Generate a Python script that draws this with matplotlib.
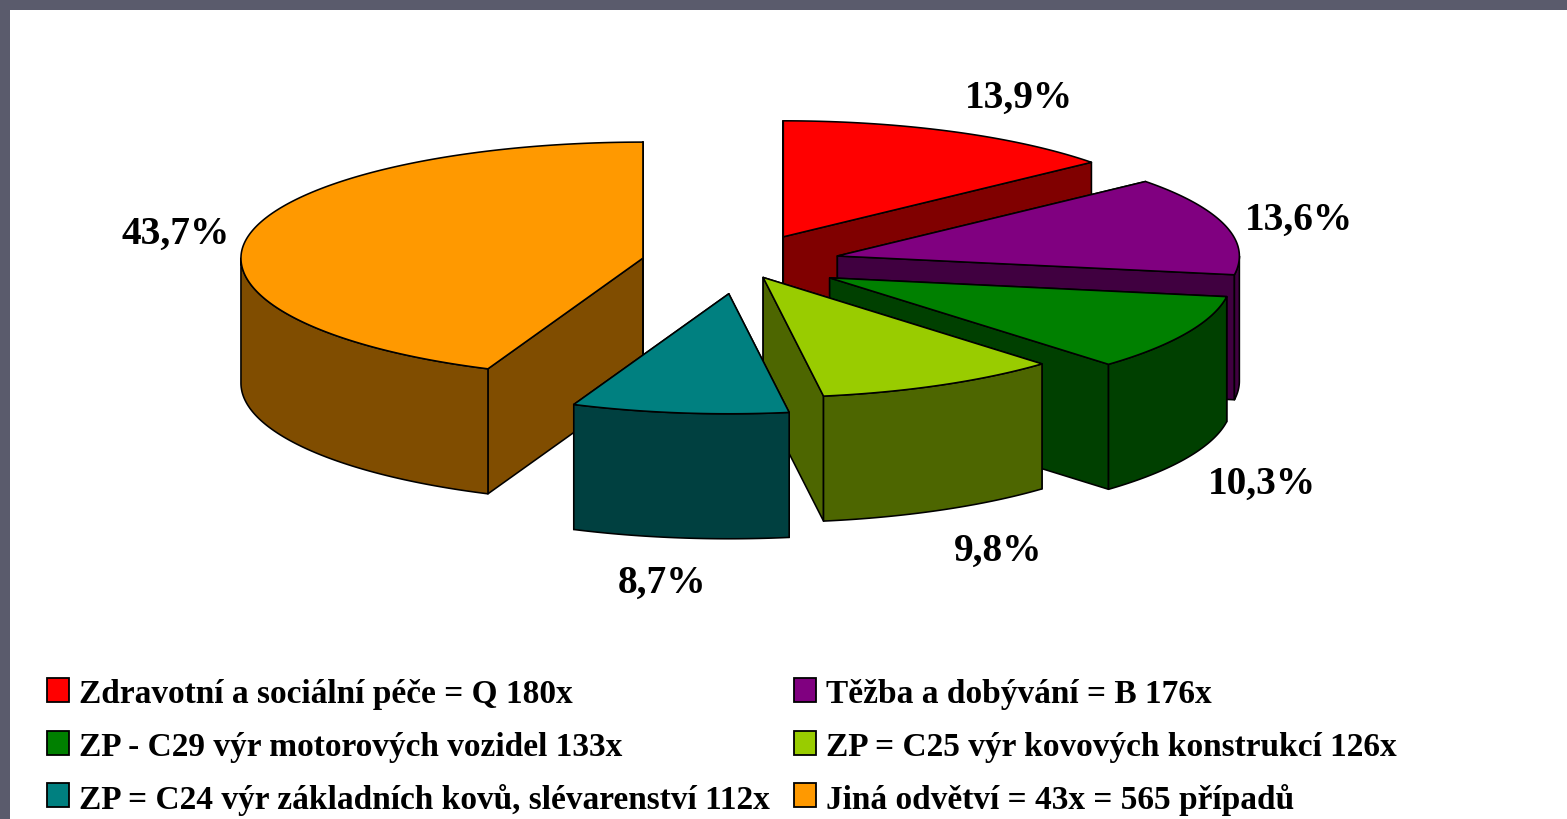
import numpy as np
import matplotlib
matplotlib.use('Agg')
import matplotlib.pyplot as plt
from matplotlib.patches import Polygon, Rectangle

# DATA
percent = [13.9, 13.6, 10.3, 9.8, 8.7, 43.7]
legend_labels = [
    "Zdravotní a sociální péče = Q 180x",
    "Těžba a dobývání = B 176x",
    "ZP - C29 výr motorových vozidel 133x",
    "ZP = C25 výr kovových konstrukcí 126x",
    "ZP = C24 výr základních kovů, slévarenství 112x",
    "Jiná odvětví = 43x = 565 případů",
]
explode = [1, 1, 1, 0.5, 1, 1]

# STYLE
top_colors = ['#FF0000', '#800080', '#008000', '#99CC00', '#008080', '#FF9900']
side_colors = ['#800000', '#400040', '#004000', '#4D6600', '#004040', '#804D00']
label_pos = [(1019, 98), (1299, 220), (1262, 484), (998, 551), (662, 583), (176, 234)]
legend_x = [47, 794]
legend_y = [691, 744, 796]
draw_order = [0, 1, 2, 3, 5, 4]  # teal sits over the orange cut face
BG = '#5A5B6C'
CX, CY = 741, 265
RX, RY_BACK, RY_FRONT = 402, 116, 120
DEPTH = 125
EXPLODE_X, EXPLODE_Y = 100, 30

plt.rcParams['font.family'] = ['Liberation Serif', 'DejaVu Serif']

fig = plt.figure(figsize=(15.67, 8.2), dpi=100, facecolor='white')
ax = fig.add_axes([0, 0, 1, 1])
ax.set_xlim(0, 1567)
ax.set_ylim(820, 0)
ax.axis('off')

# frame of the slide
ax.add_patch(Rectangle((0, 0), 1567, 11, color=BG, lw=0))
ax.add_patch(Rectangle((0, 0), 10, 820, color=BG, lw=0))


def rim(ox, oy, a, b):
    # points on the ellipse, angle in degrees clockwise from 12 o'clock
    t = np.radians(np.linspace(a, b, max(int(abs(b - a) * 2), 2)))
    c = np.cos(t)
    ry = np.where(c < 0, RY_FRONT, RY_BACK)
    return np.column_stack((ox + RX * np.sin(t), oy - ry * c))


def drop(pts):
    return pts + np.array([0, DEPTH])


def draw(pts, color, z):
    ax.add_patch(Polygon(pts, closed=True, facecolor=color, edgecolor='black',
                         lw=1.15, joinstyle='round', zorder=z))


edges = np.concatenate(([0], np.cumsum(percent))) * 3.6
z = 2
for i in draw_order:
    a, b = edges[i], edges[i + 1]
    mid = np.radians((a + b) / 2)
    ox = CX + explode[i] * EXPLODE_X * np.sin(mid)
    oy = CY - explode[i] * EXPLODE_Y * np.cos(mid)
    apex = np.array([[ox, oy]])
    arc = rim(ox, oy, a, b)

    # two cut faces
    for end in (arc[:1], arc[-1:]):
        face = np.vstack((apex, end, drop(end), drop(apex)))
        draw(face, side_colors[i], z)
    # outer wall, only the part turned to the viewer
    a2, b2 = max(a, 90), min(b, 270)
    if b2 > a2:
        wall = rim(ox, oy, a2, b2)
        draw(np.vstack((wall, drop(wall)[::-1])), side_colors[i], z + 1)
    # top
    draw(np.vstack((apex, arc)), top_colors[i], z + 2)
    z += 3

    ax.text(label_pos[i][0], label_pos[i][1], f"{percent[i]:.1f}%".replace('.', ','),
            ha='center', va='center', fontsize=28.4, fontweight='bold', color='black', zorder=50)

# legend
for i, label in enumerate(legend_labels):
    x = legend_x[i % 2]
    y = legend_y[i // 2]
    ax.add_patch(Rectangle((x, y - 12), 22, 24, facecolor=top_colors[i], edgecolor='black', lw=1.3))
    ax.text(x + 32, y + 4, label, ha='left', va='center', fontsize=24.05, fontweight='bold', color='black')

fig.savefig('out.png', dpi=100)
